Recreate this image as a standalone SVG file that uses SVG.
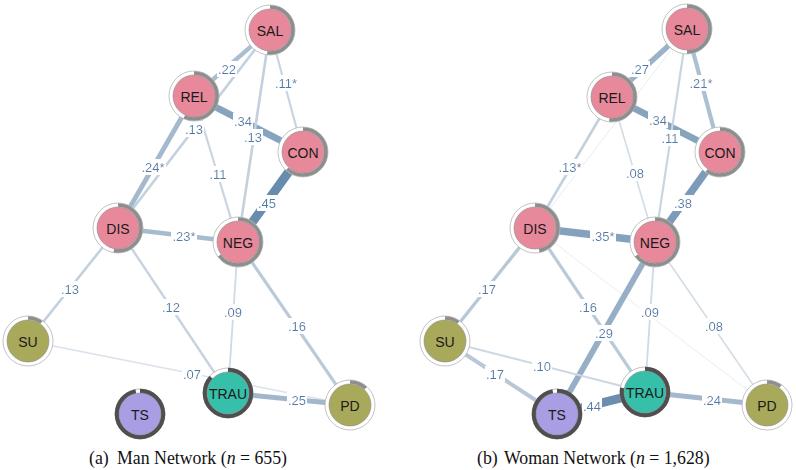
<svg xmlns="http://www.w3.org/2000/svg" width="796" height="470" viewBox="0 0 796 470">
<defs>
<filter id="lbg" x="-0.04" y="0.02" width="1.08" height="0.96"><feFlood flood-color="#ffffff"/><feComposite in="SourceGraphic"/></filter>
</defs>
<style>
.e{fill:none;stroke-linecap:butt}
.lb{font-family:"Liberation Sans",Arial,sans-serif;font-size:13px;fill:#4A7BAA;text-anchor:middle;dominant-baseline:central;filter:url(#lbg)}
.ring{fill:#ffffff;stroke:#b4b4b4;stroke-width:0.8}
.pie{fill:none;stroke:#8e8e8e;stroke-width:3.6}
.pied{fill:none;stroke:#4f4f4f;stroke-width:4.5}
.in{stroke:#8a8a8a;stroke-width:0.6}
.pink{fill:#E8899B}
.olive{fill:#A8A95B}
.teal{fill:#36BFA9}
.lav{fill:#A99DE3}
.nl{font-family:"Liberation Sans",Arial,sans-serif;font-size:14px;fill:#1a1a1a;text-anchor:middle;dominant-baseline:central}
.cap{font-family:"Liberation Serif","Times New Roman",serif;font-size:17.8px;fill:#111}
</style>
<rect width="796" height="470" fill="#ffffff"/>
<g id="connectors">
<line class="e" x1="270" y1="30" x2="194" y2="96" stroke="#A9BED1" stroke-width="4.4"/>
<line class="e" x1="270" y1="30" x2="118" y2="228" stroke="#C3D1DE" stroke-width="2.6"/>
<line class="e" x1="194" y1="96" x2="118" y2="228" stroke="#A4B9CE" stroke-width="4.8"/>
<line class="e" x1="194" y1="96" x2="303" y2="152" stroke="#87A4BF" stroke-width="6.8"/>
<line class="e" x1="270" y1="30" x2="303" y2="152" stroke="#C9D5E1" stroke-width="2.2"/>
<line class="e" x1="270" y1="30" x2="238" y2="242" stroke="#C3D1DE" stroke-width="2.6"/>
<line class="e" x1="194" y1="96" x2="238" y2="242" stroke="#C9D5E1" stroke-width="2.2"/>
<line class="e" x1="303" y1="152" x2="238" y2="242" stroke="#688CAE" stroke-width="9"/>
<line class="e" x1="118" y1="228" x2="238" y2="242" stroke="#A7BBCF" stroke-width="4.6"/>
<line class="e" x1="118" y1="228" x2="28" y2="341" stroke="#C3D1DE" stroke-width="2.6"/>
<line class="e" x1="118" y1="228" x2="228" y2="393" stroke="#C6D3E0" stroke-width="2.4"/>
<line class="e" x1="238" y1="242" x2="228" y2="393" stroke="#CEDAE4" stroke-width="1.8"/>
<line class="e" x1="238" y1="242" x2="350" y2="405" stroke="#BACADA" stroke-width="3.2"/>
<line class="e" x1="28" y1="341" x2="350" y2="405" stroke="#D9E2EA" stroke-width="1.4"/>
<line class="e" x1="228" y1="393" x2="350" y2="405" stroke="#A1B7CC" stroke-width="5"/>
<line class="e" x1="687" y1="29" x2="535" y2="228" stroke="#E8EDF2" stroke-width="1"/>
<line class="e" x1="535" y1="228" x2="767" y2="405" stroke="#E8EDF2" stroke-width="1"/>
<line class="e" x1="687" y1="29" x2="612" y2="97" stroke="#9BB3C9" stroke-width="5.4"/>
<line class="e" x1="687" y1="29" x2="720" y2="152" stroke="#ACC0D2" stroke-width="4.2"/>
<line class="e" x1="612" y1="97" x2="720" y2="152" stroke="#87A4BF" stroke-width="6.8"/>
<line class="e" x1="687" y1="29" x2="655" y2="242" stroke="#C9D5E1" stroke-width="2.2"/>
<line class="e" x1="612" y1="97" x2="655" y2="242" stroke="#D1DCE6" stroke-width="1.6"/>
<line class="e" x1="612" y1="97" x2="535" y2="228" stroke="#C3D1DE" stroke-width="2.6"/>
<line class="e" x1="720" y1="152" x2="655" y2="242" stroke="#7C9BB9" stroke-width="7.6"/>
<line class="e" x1="535" y1="228" x2="655" y2="242" stroke="#84A2BD" stroke-width="7.6"/>
<line class="e" x1="535" y1="228" x2="445" y2="341" stroke="#B8C8D8" stroke-width="3.4"/>
<line class="e" x1="535" y1="228" x2="645" y2="392" stroke="#BACADA" stroke-width="3.2"/>
<line class="e" x1="655" y1="242" x2="557" y2="414" stroke="#96AFC6" stroke-width="5.8"/>
<line class="e" x1="655" y1="242" x2="645" y2="392" stroke="#CEDAE4" stroke-width="1.8"/>
<line class="e" x1="655" y1="242" x2="767" y2="405" stroke="#D1DCE6" stroke-width="1.6"/>
<line class="e" x1="445" y1="341" x2="557" y2="414" stroke="#B8C8D8" stroke-width="4"/>
<line class="e" x1="445" y1="341" x2="645" y2="392" stroke="#CCD7E3" stroke-width="2"/>
<line class="e" x1="557" y1="414" x2="645" y2="392" stroke="#6B8EAF" stroke-width="9"/>
<line class="e" x1="645" y1="392" x2="767" y2="405" stroke="#A4B9CE" stroke-width="5"/>
</g>
<g id="edge-labels">
<text class="lb" x="227" y="69">.22</text>
<text class="lb" x="194" y="129">.13</text>
<text class="lb" x="153" y="167">.24*</text>
<text class="lb" x="243" y="121">.34</text>
<text class="lb" x="286" y="83">.11*</text>
<text class="lb" x="253" y="137">.13</text>
<text class="lb" x="218" y="174">.11</text>
<text class="lb" x="267" y="203">.45</text>
<text class="lb" x="184" y="236">.23*</text>
<text class="lb" x="70" y="289">.13</text>
<text class="lb" x="171" y="307">.12</text>
<text class="lb" x="233" y="312">.09</text>
<text class="lb" x="297" y="326">.16</text>
<text class="lb" x="192" y="374">.07</text>
<text class="lb" x="297" y="400">.25</text>
<text class="lb" x="640" y="69">.27</text>
<text class="lb" x="701" y="83">.21*</text>
<text class="lb" x="658" y="120">.34</text>
<text class="lb" x="670" y="138">.11</text>
<text class="lb" x="635" y="173">.08</text>
<text class="lb" x="570" y="167">.13*</text>
<text class="lb" x="683" y="203">.38</text>
<text class="lb" x="603" y="236">.35*</text>
<text class="lb" x="487" y="289">.17</text>
<text class="lb" x="588" y="307">.16</text>
<text class="lb" x="604" y="333">.29</text>
<text class="lb" x="650" y="312">.09</text>
<text class="lb" x="714" y="326">.08</text>
<text class="lb" x="495" y="374">.17</text>
<text class="lb" x="542" y="366">.10</text>
<text class="lb" x="592" y="406">.44</text>
<text class="lb" x="712" y="400">.24</text>
</g>
<g id="a-SAL" transform="translate(270,30)"><circle class="ring" r="25"/><circle class="pie" r="23" pathLength="100" stroke-dasharray="52 100" transform="rotate(-90)"/><circle class="in pink" r="21"/><text class="nl" y="1">SAL</text></g>
<g id="a-REL" transform="translate(194,96)"><circle class="ring" r="25"/><circle class="pie" r="23" pathLength="100" stroke-dasharray="57 100" transform="rotate(-90)"/><circle class="in pink" r="21"/><text class="nl" y="1">REL</text></g>
<g id="a-CON" transform="translate(303,152)"><circle class="ring" r="25"/><circle class="pie" r="23" pathLength="100" stroke-dasharray="62 100" transform="rotate(-90)"/><circle class="in pink" r="21"/><text class="nl" y="1">CON</text></g>
<g id="a-DIS" transform="translate(118,228)"><circle class="ring" r="25"/><circle class="pie" r="23" pathLength="100" stroke-dasharray="53 100" transform="rotate(-90)"/><circle class="in pink" r="21"/><text class="nl" y="1">DIS</text></g>
<g id="a-NEG" transform="translate(238,242)"><circle class="ring" r="25"/><circle class="pie" r="23" pathLength="100" stroke-dasharray="65 100" transform="rotate(-90)"/><circle class="in pink" r="21"/><text class="nl" y="1">NEG</text></g>
<g id="a-SU" transform="translate(28,341)"><circle class="ring" r="25"/><circle class="pie" r="23" pathLength="100" stroke-dasharray="10 100" transform="rotate(-90)"/><circle class="in olive" r="21"/><text class="nl" y="1">SU</text></g>
<g id="a-TRAU" transform="translate(228,393)"><circle class="ring" r="25"/><circle class="pied" r="23" pathLength="100" stroke-dasharray="87 100" transform="rotate(-90)"/><circle class="in teal" r="21"/><text class="nl" y="1">TRAU</text></g>
<g id="a-TS" transform="translate(140,414)"><circle class="ring" r="25"/><circle class="pied" r="23" pathLength="100" stroke-dasharray="97 100" transform="rotate(-90)"/><circle class="in lav" r="21"/><text class="nl" y="1">TS</text></g>
<g id="a-PD" transform="translate(350,405)"><circle class="ring" r="25"/><circle class="pie" r="23" pathLength="100" stroke-dasharray="12 100" transform="rotate(-90)"/><circle class="in olive" r="21"/><text class="nl" y="1">PD</text></g>
<g id="b-SAL" transform="translate(687,29)"><circle class="ring" r="25"/><circle class="pie" r="23" pathLength="100" stroke-dasharray="50 100" transform="rotate(-90)"/><circle class="in pink" r="21"/><text class="nl" y="1">SAL</text></g>
<g id="b-REL" transform="translate(612,97)"><circle class="ring" r="25"/><circle class="pie" r="23" pathLength="100" stroke-dasharray="52 100" transform="rotate(-90)"/><circle class="in pink" r="21"/><text class="nl" y="1">REL</text></g>
<g id="b-CON" transform="translate(720,152)"><circle class="ring" r="25"/><circle class="pie" r="23" pathLength="100" stroke-dasharray="60 100" transform="rotate(-90)"/><circle class="in pink" r="21"/><text class="nl" y="1">CON</text></g>
<g id="b-DIS" transform="translate(535,228)"><circle class="ring" r="25"/><circle class="pie" r="23" pathLength="100" stroke-dasharray="47 100" transform="rotate(-90)"/><circle class="in pink" r="21"/><text class="nl" y="1">DIS</text></g>
<g id="b-NEG" transform="translate(655,242)"><circle class="ring" r="25"/><circle class="pie" r="23" pathLength="100" stroke-dasharray="65 100" transform="rotate(-90)"/><circle class="in pink" r="21"/><text class="nl" y="1">NEG</text></g>
<g id="b-SU" transform="translate(445,341)"><circle class="ring" r="25"/><circle class="pie" r="23" pathLength="100" stroke-dasharray="10 100" transform="rotate(-90)"/><circle class="in olive" r="21"/><text class="nl" y="1">SU</text></g>
<g id="b-TS" transform="translate(557,414)"><circle class="ring" r="25"/><circle class="pied" r="23" pathLength="100" stroke-dasharray="97 100" transform="rotate(-90)"/><circle class="in lav" r="21"/><text class="nl" y="1">TS</text></g>
<g id="b-TRAU" transform="translate(645,392)"><circle class="ring" r="25"/><circle class="pied" r="23" pathLength="100" stroke-dasharray="78 100" transform="rotate(-90)"/><circle class="in teal" r="21"/><text class="nl" y="1">TRAU</text></g>
<g id="b-PD" transform="translate(767,405)"><circle class="ring" r="25"/><circle class="pie" r="23" pathLength="100" stroke-dasharray="10 100" transform="rotate(-90)"/><circle class="in olive" r="21"/><text class="nl" y="1">PD</text></g>
<g id="captions">
<text class="cap" x="89" y="464">(a)</text>
<text class="cap" x="117" y="464">Man Network (<tspan font-style="italic">n</tspan> = 655)</text>
<text class="cap" x="477" y="464">(b)</text>
<text class="cap" x="504" y="464">Woman Network (<tspan font-style="italic">n</tspan> = 1,628)</text>
</g>
</svg>
